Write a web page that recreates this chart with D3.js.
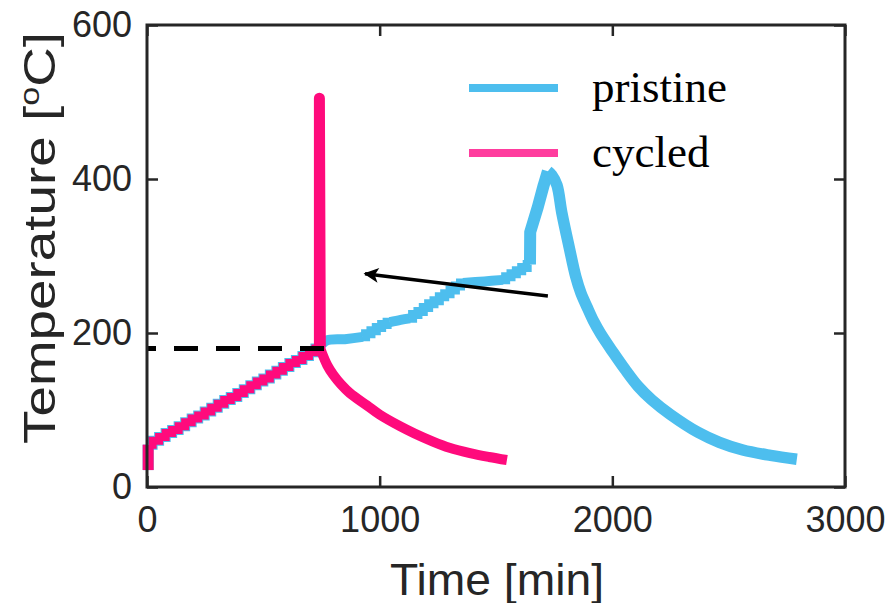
<!DOCTYPE html>
<html>
<head>
<meta charset="utf-8">
<script src="https://cdn.jsdelivr.net/npm/d3@7"></script>
<style>
  html, body { margin: 0; padding: 0; background: #ffffff; }
  svg { display: block; }
</style>
</head>
<body>
<svg id="chart" width="890" height="603"></svg>
<script>
// ---- axis setup ----
const xTicks = [0, 1000, 2000, 3000];
const yTicks = [0, 200, 400, 600];

// ---- shared heating ramp (both samples follow the same stepped profile) ----
const rampStartTime = [5, 5];
const rampStartTemp = [22, 55];
const rampTime = [10, 38, 66, 94, 122, 150, 178, 206, 234, 262, 290, 318, 346, 374,
                  402, 430, 458, 486, 514, 542, 570, 598, 626, 654, 682, 710, 738];
const rampTemp = [55, 60, 65, 70, 74, 79, 84, 89, 93, 98, 103, 108, 113, 117,
                  122, 127, 132, 137, 141, 146, 151, 156, 161, 165, 170, 175, 180];

// ---- pristine: continued heating, peak and cool-down ----
const pristineBridgeTime = [738, 770, 850, 928];
const pristineBridgeTemp = [180, 190, 192, 195];
const pristineStepsATime = [928, 951, 974, 997, 1020, 1044];
const pristineStepsATemp = [195, 199, 203, 207, 211, 214];
const pristinePlateauATime = [1044, 1090, 1130];
const pristinePlateauATemp = [214, 217, 219];
const pristineStepsBTime = [1130, 1153, 1176, 1199, 1222, 1245, 1268, 1291, 1314, 1337, 1358];
const pristineStepsBTemp = [219, 224, 228, 233, 238, 242, 247, 251, 256, 261, 265];
const pristinePlateauBTime = [1358, 1450, 1530];
const pristinePlateauBTemp = [265, 267, 269];
const pristineStepsCTime = [1530, 1553, 1576, 1599, 1622, 1646];
const pristineStepsCTemp = [269, 273, 277, 281, 285, 289];
const pristinePeakTime = [1646, 1647, 1680, 1705, 1723];
const pristinePeakTemp = [289, 331, 364, 392, 410];
const pristineCoolTime = [1723, 1740, 1762, 1783, 1814, 1843, 1865, 1891, 1920, 1950,
                          2003, 2054, 2110, 2170, 2250, 2368, 2460, 2561, 2680, 2793];
const pristineCoolTemp = [410, 405, 392, 356, 312, 273, 252, 234, 215, 199,
                          175, 153, 131, 113, 94, 71, 58, 48, 41, 36];

// ---- cycled: thermal runaway spike at ~180 °C, then cool-down ----
const cycledSpikeTime = [738, 741, 741, 745];
const cycledSpikeTemp = [180, 180, 505, 182];
const cycledCoolTime = [745, 752, 775, 800, 835, 872, 945, 1000, 1087, 1150,
                        1229, 1300, 1388, 1470, 1547];
const cycledCoolTemp = [180, 174, 158, 146, 133, 122, 106, 94, 79, 69.5,
                        59, 51, 44, 39, 35];

// ---- annotations ----
const onsetTemp = 180;
const onsetLineTime = [0, 765];
const arrowFrom = [1723, 248];
const arrowTo = [937, 277];

// ---- legend ----
const seriesNames = ["pristine", "cycled"];
const seriesColors = ["#4dbeee", "#ff0a7c"];
const legendColors = ["#4dbeee", "#ff3d9e"];

// ---- drawing ----
const svg = d3.select("#chart");
const x = d3.scaleLinear().domain([0, 3000]).range([147, 845]);
const y = d3.scaleLinear().domain([0, 600]).range([487, 25]);
const axisColor = "#262626";

const zip = (ts, vs) => ts.map((t, i) => [t, vs[i]]);
const plot = svg.append("g");
const smooth = d3.curveCatmullRom.alpha(0.5);

function drawTrace(points, curve, color, width, join) {
  const line = d3.line().x(d => x(d[0])).y(d => y(d[1])).curve(curve);
  plot.append("path")
    .attr("d", line(points))
    .attr("fill", "none")
    .attr("stroke", color)
    .attr("stroke-width", width)
    .attr("stroke-linejoin", join || "round")
    .attr("stroke-linecap", "butt");
}

const blue = seriesColors[0], pink = seriesColors[1];
const W = 10;

// pristine trace
drawTrace(zip(rampStartTime, rampStartTemp), d3.curveLinear, blue, W + 1);
drawTrace(zip(rampTime, rampTemp), d3.curveStep, blue, W, "miter");
drawTrace(zip(pristineBridgeTime, pristineBridgeTemp), smooth, blue, W);
drawTrace(zip(pristineStepsATime, pristineStepsATemp), d3.curveStep, blue, W - 1, "miter");
drawTrace(zip(pristinePlateauATime, pristinePlateauATemp), smooth, blue, W);
drawTrace(zip(pristineStepsBTime, pristineStepsBTemp), d3.curveStep, blue, W - 1, "miter");
drawTrace(zip(pristinePlateauBTime, pristinePlateauBTemp), smooth, blue, W);
drawTrace(zip(pristineStepsCTime, pristineStepsCTemp), d3.curveStep, blue, W - 1, "miter");
drawTrace(zip(pristinePeakTime, pristinePeakTemp), d3.curveLinear, blue, W + 2);
drawTrace(zip(pristineCoolTime, pristineCoolTemp), smooth, blue, W + 1.5);

// cycled trace
drawTrace(zip(rampStartTime, rampStartTemp), d3.curveLinear, pink, W + 1);
drawTrace(zip(rampTime, rampTemp), d3.curveStep, pink, W - 2, "miter");
drawTrace(zip(cycledSpikeTime, cycledSpikeTemp), d3.curveLinear, pink, W + 1);
drawTrace(zip(cycledCoolTime, cycledCoolTemp), smooth, pink, W);

// onset temperature marker
plot.append("line")
  .attr("x1", x(onsetLineTime[0])).attr("x2", x(onsetLineTime[1]))
  .attr("y1", y(onsetTemp)).attr("y2", y(onsetTemp))
  .attr("stroke", "#000").attr("stroke-width", 5)
  .attr("stroke-dasharray", "24,18").attr("stroke-dashoffset", 15);

// arrow
svg.append("defs").append("marker")
  .attr("id", "arrowhead")
  .attr("viewBox", "0 0 10 10")
  .attr("refX", 9).attr("refY", 5)
  .attr("markerWidth", 18).attr("markerHeight", 15)
  .attr("markerUnits", "userSpaceOnUse")
  .attr("orient", "auto")
  .append("path").attr("d", "M0,0 L10,5 L0,10 L2.5,5 Z").attr("fill", "#000");

plot.append("line")
  .attr("x1", x(arrowFrom[0])).attr("y1", y(arrowFrom[1]))
  .attr("x2", x(arrowTo[0])).attr("y2", y(arrowTo[1]))
  .attr("stroke", "#000").attr("stroke-width", 3.5)
  .attr("marker-end", "url(#arrowhead)");

// axes with inward ticks on all four sides
const tickLen = 11;
const fontAxis = "'Liberation Sans', Arial, Helvetica, sans-serif";

const gx = svg.append("g").attr("transform", `translate(0,${y(0)})`)
  .call(d3.axisBottom(x).tickValues(xTicks).tickSizeInner(-tickLen).tickSizeOuter(0).tickPadding(19).tickFormat(d3.format("d")));
const gy = svg.append("g").attr("transform", `translate(${x(0)},0)`)
  .call(d3.axisLeft(y).tickValues(yTicks).tickSizeInner(-tickLen).tickSizeOuter(0).tickPadding(15).tickFormat(d3.format("d")));
const gxt = svg.append("g").attr("transform", `translate(0,${y(600)})`)
  .call(d3.axisTop(x).tickValues(xTicks).tickSizeInner(-tickLen).tickSizeOuter(0).tickFormat(""));
const gyr = svg.append("g").attr("transform", `translate(${x(3000)},0)`)
  .call(d3.axisRight(y).tickValues(yTicks).tickSizeInner(-tickLen).tickSizeOuter(0).tickFormat(""));

[gx, gy, gxt, gyr].forEach(g => {
  g.select(".domain").remove();
  g.selectAll(".tick line").attr("stroke", axisColor).attr("stroke-width", 2.5);
  g.selectAll(".tick text").attr("fill", axisColor)
    .style("font-family", fontAxis).style("font-size", "36px");
});

svg.append("rect")
  .attr("x", x(0)).attr("y", y(600))
  .attr("width", x(3000) - x(0)).attr("height", y(0) - y(600))
  .attr("fill", "none").attr("stroke", axisColor).attr("stroke-width", 3);

// axis titles
svg.append("text")
  .attr("x", 497).attr("y", 595)
  .attr("text-anchor", "middle")
  .attr("fill", axisColor)
  .attr("textLength", 214).attr("lengthAdjust", "spacingAndGlyphs")
  .style("font-family", fontAxis).style("font-size", "44px")
  .text("Time [min]");

const yTitle = svg.append("text")
  .attr("transform", "translate(55,238) rotate(-90)")
  .attr("text-anchor", "middle")
  .attr("fill", axisColor)
  .attr("textLength", 412).attr("lengthAdjust", "spacingAndGlyphs")
  .style("font-family", fontAxis).style("font-size", "45px");
yTitle.append("tspan").text("Temperature [");
yTitle.append("tspan").attr("dy", -16).style("font-size", "28px").text("o");
yTitle.append("tspan").attr("dy", 16).text("C]");

// legend
const legend = svg.append("g");
seriesNames.forEach((name, i) => {
  const ly = 88 + i * 65;
  legend.append("line")
    .attr("x1", 469).attr("x2", 558).attr("y1", ly).attr("y2", ly)
    .attr("stroke", legendColors[i]).attr("stroke-width", 8);
  legend.append("text")
    .attr("x", 592).attr("y", ly + 14)
    .attr("fill", "#000")
    .style("font-family", "'Liberation Serif', 'Times New Roman', serif")
    .style("font-size", "45px")
    .text(name);
});
</script>
</body>
</html>
